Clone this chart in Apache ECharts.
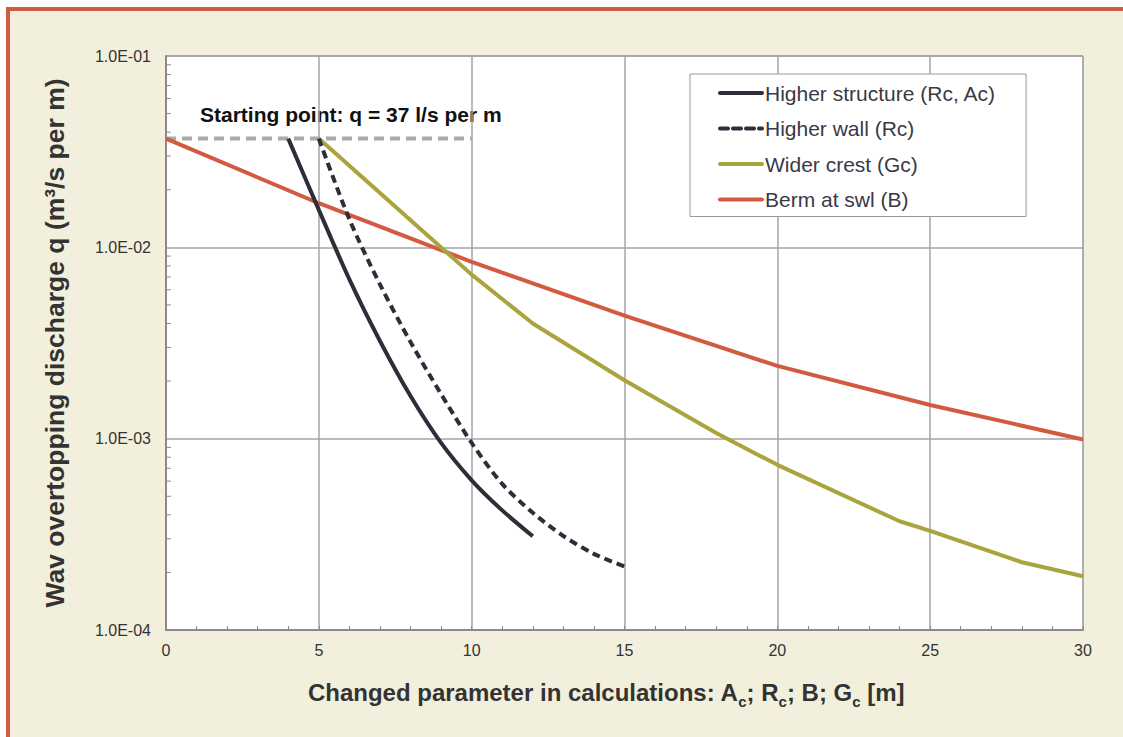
<!DOCTYPE html>
<html lang="en">
<head>
    <meta charset="UTF-8">
    <title>Wave overtopping discharge</title>
    <style>
      body { margin: 0; background: #ffffff; }
      #frame {
        position: absolute; left: 6px; top: 7px; width: 1130px; height: 740px;
        background: #f2f0dc; border-left: 4px solid #cf5b45; border-top: 4px solid #cf5b45;
      }
      #main { position: absolute; left: 0; top: 0; width: 1123px; height: 737px; }
    </style>
</head>
<body>
    <div id="frame"></div>
    <div id="main"></div>
    <script src="https://cdn.jsdelivr.net/npm/echarts@6/dist/echarts.min.js"></script>
    <script>
      // values
      const xStructure = [4, 5, 6, 7, 8, 9, 10, 11, 12];
      const qStructure = [0.037, 0.0157, 0.0068, 0.00324, 0.00167, 0.00095, 0.000606, 0.000422, 0.000309];

      const xWall = [5, 6, 7, 8, 9, 10, 11, 12, 13, 14, 15];
      const qWall = [0.037, 0.0140, 0.0064, 0.0032, 0.00171, 0.00095, 0.00058, 0.00041, 0.00031, 0.00025, 0.000215];

      const xCrest = [5, 10, 12, 15, 18, 20, 24, 25, 28, 30];
      const qCrest = [0.037, 0.0072, 0.0040, 0.00202, 0.00107, 0.00073, 0.00037, 0.00033, 0.000226, 0.000191];

      const xBerm = [0, 5, 10, 15, 20, 25, 30];
      const qBerm = [0.037, 0.0170, 0.0084, 0.0044, 0.0024, 0.0015, 0.00099];

      const xStart = [0, 10];
      const qStart = [0.037, 0.037];

      const decades = [0.0001, 0.001, 0.01];
      const minorMult = [2, 3, 4, 5, 6, 7, 8, 9];

      const pairs = (xs, ys) => xs.map((x, i) => [x, ys[i]]);
      const minorTicks = [];
      decades.forEach(d => minorMult.forEach(m => minorTicks.push([0, d * m])));

      const chart = echarts.init(document.getElementById('main'), null, { renderer: 'svg' });

      const lineW = 4;
      const option = {
        backgroundColor: 'transparent',
        textStyle: { fontFamily: 'Liberation Sans, Arial, sans-serif' },
        grid: {
          left: 166, right: 40, top: 56, bottom: 107,
          show: true, backgroundColor: '#ffffff', borderColor: '#a0a0a0', borderWidth: 1
        },
        legend: {
          data: ['Higher structure (Rc, Ac)', 'Higher wall (Rc)', 'Wider crest (Gc)', 'Berm at swl (B)'],
          orient: 'vertical',
          left: 690, top: 74,
          padding: [8, 30, 6, 28],
          itemWidth: 42, itemHeight: 14, itemGap: 13.5,
          itemStyle: { color: 'rgba(0,0,0,0)', borderWidth: 0 },
          lineStyle: { width: 4, cap: 'round' },
          backgroundColor: '#ffffff', borderColor: '#999999', borderWidth: 1,
          textStyle: { fontSize: 21, color: '#3a3a46', lineHeight: 22, padding: [0, 0, 0, -2] }
        },
        graphic: [{
          type: 'text', left: 200, top: 104,
          style: { text: 'Starting point: q = 37 l/s per m', fontSize: 21, fontWeight: 'bold',
                   fill: '#111111', fontFamily: 'Liberation Sans, Arial, sans-serif' }
        }],
        xAxis: {
          type: 'value', min: 0, max: 30, interval: 5,
          name: '{n|Changed parameter in calculations: A}{s|c}{n|; R}{s|c}{n|; B; G}{s|c}{n| [m]}',
          nameLocation: 'middle', nameGap: 50,
          nameTextStyle: {
            padding: [0, 37, 0, 0],
            rich: {
              n: { fontSize: 24, fontWeight: 'bold', color: '#333333', verticalAlign: 'bottom', padding: [0, 0, 5, 0] },
              s: { fontSize: 15, fontWeight: 'bold', color: '#333333', verticalAlign: 'bottom' }
            }
          },
          axisLine: { lineStyle: { color: '#8a8a8a', width: 2 } },
          axisTick: { show: true, inside: true, length: 4, lineStyle: { color: '#8a8a8a' } },
          minorTick: { show: true, splitNumber: 5, length: 4, lineStyle: { color: '#8a8a8a' } },
          axisLabel: { fontSize: 16, color: '#333333', margin: 12 },
          splitLine: { show: true, lineStyle: { color: '#a4a4a4', width: 1.5 } }
        },
        yAxis: {
          type: 'log', logBase: 10, min: 0.0001, max: 0.1,
          name: 'Wav overtopping discharge q (m³/s per m)',
          nameLocation: 'middle', nameGap: 98,
          nameTextStyle: { fontSize: 26.5, fontWeight: 'bold', color: '#333333' },
          axisLine: { show: true, lineStyle: { color: '#8a8a8a', width: 2 } },
          axisTick: { show: false },
          axisLabel: {
            fontSize: 16, color: '#333333', margin: 15,
            formatter: function (v) {
              const e = Math.round(Math.log10(v));
              return '1.0E' + (e < 0 ? '-' : '+') + String(Math.abs(e)).padStart(2, '0');
            }
          },
          splitLine: { show: true, lineStyle: { color: '#a4a4a4', width: 1.5 } }
        },
        series: [
          {
            name: 'start', type: 'line', data: pairs(xStart, qStart), symbol: 'none', silent: true, z: 1,
            lineStyle: { color: '#aaaaaa', width: lineW, type: [10, 6] }
          },
          {
            name: 'minorTicks', type: 'custom', data: minorTicks, silent: true, z: 5, clip: false,
            renderItem: function (params, api) {
              const p = api.coord([api.value(0), api.value(1)]);
              return {
                type: 'line',
                shape: { x1: p[0], y1: p[1], x2: p[0] + 5, y2: p[1] },
                style: { stroke: '#8a8a8a', lineWidth: 1 }
              };
            }
          },
          {
            name: 'Berm at swl (B)', type: 'line', data: pairs(xBerm, qBerm), symbol: 'none', z: 3,
            lineStyle: { color: '#d35a42', width: lineW }, itemStyle: { color: '#d35a42' }
          },
          {
            name: 'Wider crest (Gc)', type: 'line', data: pairs(xCrest, qCrest), symbol: 'none', z: 3,
            lineStyle: { color: '#aaa43e', width: lineW }, itemStyle: { color: '#aaa43e' }
          },
          {
            name: 'Higher wall (Rc)', type: 'line', data: pairs(xWall, qWall), symbol: 'none', z: 4,
            smooth: 0.3,
            lineStyle: { color: '#2e2e3a', width: lineW, type: [8, 5] }, itemStyle: { color: '#2e2e3a' }
          },
          {
            name: 'Higher structure (Rc, Ac)', type: 'line', data: pairs(xStructure, qStructure), symbol: 'none', z: 4,
            smooth: 0.3,
            lineStyle: { color: '#2e2e3a', width: lineW }, itemStyle: { color: '#2e2e3a' }
          }
        ]
      };

      option && chart.setOption(option);
    </script>
</body>
</html>
